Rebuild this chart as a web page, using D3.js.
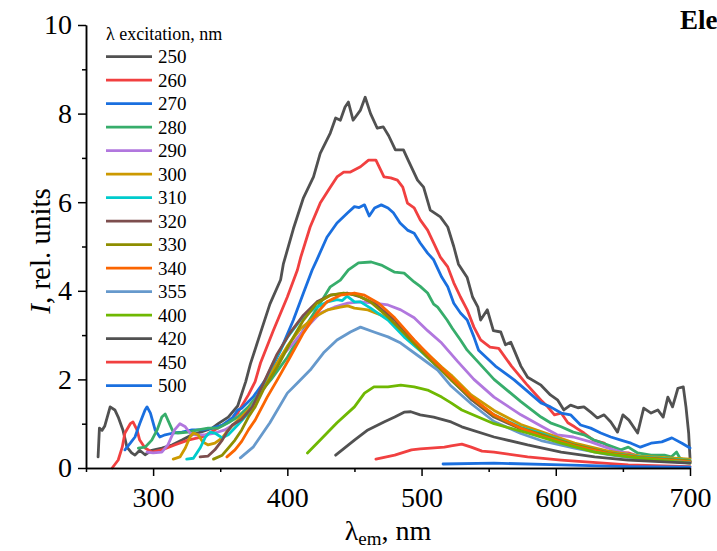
<!DOCTYPE html>
<html lang="en">
<head>
    <meta charset="UTF-8">
    <title>Excitation spectra</title>
    <style>
        body { margin: 0; background: #fff; }
        svg { display: block; font-family: "Liberation Serif", "Times New Roman", serif; }
        .axis path, .axis line { stroke: #000; stroke-width: 1.5px; }
        .axis text { font-family: "Liberation Serif", serif; font-size: 28px; fill: #000; }
    </style>
</head>
<body>
    <svg id="chart" width="717" height="551"></svg>

    <script src="https://d3js.org/d3.v7.min.js"></script>
    <script>
        // excitation wavelengths (legend) and colours
        var excitation = ["250", "260", "270", "280", "290", "300", "310", "320", "330", "340", "355", "400", "420", "450", "500"];
        var colors = ["#515151", "#F14040", "#1A6FDF", "#37AD6B", "#B177DE", "#CC9900", "#00CBCC", "#7D4E4E",
                      "#8E8E00", "#FB6501", "#6699CC", "#6FB802", "#515151", "#F14040", "#1A6FDF"];

        var xTicks = [300, 400, 500, 600, 700];
        var xMinor = [250, 350, 450, 550, 650];
        var yTicks = [0, 2, 4, 6, 8, 10];
        var yMinor = [1, 3, 5, 7, 9];

        // emission spectra, [lambda_em nm, I rel. units]
        var s250 = [[259,0.25],[260,0.9],[262,0.85],[264,0.95],[268,1.38],[271.5,1.31],[274,1.15],[277.5,0.86],[280.5,0.47],[284,0.34],[286.5,0.29],[290,0.4],[294,0.3],[299,0.4],[306.5,0.45],[314,0.52],[321.5,0.63],[329,0.75],[336.5,0.82],[344,0.9],[348.5,1.0],[356,1.15],[363,1.4],[369,1.95],[372.5,2.35],[380,3.05],[387,3.7],[395,4.25],[397,4.6],[404.5,5.4],[412,6.1],[419.5,6.57],[424.5,7.1],[432,7.56],[436,7.9],[439.5,7.85],[443,8.15],[445.5,8.26],[449,7.85],[454.5,8.08],[458,8.37],[462,8.0],[467,7.67],[471.5,7.7],[475.5,7.5],[480.5,7.18],[486.5,7.18],[490,6.95],[497,6.5],[501.5,6.34],[506.5,5.82],[514,5.67],[519.5,5.44],[524,5.0],[527.5,4.6],[534,4.3],[538,3.86],[542,3.63],[544,3.34],[549,3.57],[553.5,3.1],[559,3.07],[562.5,2.78],[566.5,2.84],[569,2.66],[574,2.3],[579,2.05],[589,1.87],[596,1.65],[601.5,1.53],[606,1.31],[611,1.42],[616.5,1.36],[621,1.38],[626,1.26],[631,1.13],[636,1.2],[641,1.04],[646,0.81],[650,1.2],[654.5,1.08],[661,0.79],[665.5,1.35],[671,1.24],[676,1.31],[680,1.15],[683.5,1.6],[687,1.38],[691,1.8],[695,1.83],[697,1.38],[699,0.79],[700,0.23]];
        var s260 = [[269.5,0.0],[274,0.18],[277,0.47],[279,0.79],[283,1.0],[285,1.04],[288,0.86],[290,0.63],[294,0.45],[299,0.36],[306.5,0.41],[316,0.52],[326,0.63],[336.5,0.7],[346,0.86],[356,1.04],[363,1.24],[371,1.65],[376,1.95],[380,2.37],[389.5,3.1],[400,3.86],[407.5,4.47],[410,4.76],[417,5.44],[424.5,5.98],[432,6.34],[437,6.57],[442,6.68],[447,6.68],[454.5,6.8],[460.5,6.95],[466,6.95],[469.5,6.73],[472,6.57],[477,6.55],[482,6.5],[486,6.34],[489.5,5.98],[494.5,5.87],[499,5.6],[504.5,5.37],[509,5.08],[514,4.76],[519.5,4.54],[524,4.18],[529,3.86],[534,3.57],[539,3.18],[544,2.89],[551,2.73],[557.5,2.7],[567,2.3],[578,1.9],[589,1.53],[594,1.38],[599,1.2],[604,1.24],[609,1.02],[614,0.93],[621,0.79],[628,0.63],[636,0.56],[644,0.36],[654,0.34],[663,0.25],[676,0.23],[688,0.18],[700,0.14]];
        var s270 = [[279,0.41],[283,0.56],[286.5,0.7],[290,1.0],[294,1.31],[295.5,1.38],[298,1.24],[301.5,0.86],[305,0.7],[309,0.75],[315,0.79],[321.5,0.81],[329,0.86],[336.5,0.86],[344,0.9],[351.5,0.97],[359,1.13],[363,1.31],[366,1.35],[374.5,1.6],[385,2.05],[395,2.66],[404.5,3.34],[412,3.95],[418.5,4.47],[422,4.7],[429.5,5.21],[437,5.53],[445,5.76],[450,5.9],[453.5,5.88],[457.5,5.94],[461,5.69],[465,5.87],[470,5.94],[475,5.87],[479,5.76],[484,5.53],[489.5,5.37],[494.5,5.3],[499,5.08],[504.5,4.85],[509,4.7],[515,4.31],[519.5,4.09],[524,3.72],[529,3.5],[534,3.34],[539,2.96],[542.5,2.66],[555,2.3],[569,1.99],[589,1.47],[596,1.38],[604,1.24],[611,1.2],[618.5,0.97],[626,0.9],[633.5,0.79],[641,0.7],[648.5,0.63],[656,0.56],[663,0.47],[671,0.56],[679,0.59],[686.5,0.68],[694,0.56],[700,0.45]];
        var s280 = [[289,0.45],[294,0.47],[299,0.63],[303,0.86],[306.5,1.15],[309,1.22],[311,1.08],[315,0.81],[318.5,0.79],[326,0.81],[333.5,0.86],[341,0.9],[348.5,0.9],[356,1.02],[363,1.15],[371,1.38],[375,1.53],[388,2.0],[400,2.5],[415,3.27],[424.5,3.72],[432,4.09],[439.5,4.24],[445.5,4.47],[453,4.63],[462.5,4.65],[470,4.58],[480,4.42],[487,4.4],[494.5,4.2],[499,4.1],[504.5,3.95],[509,3.7],[512,3.63],[519,3.34],[523,3.15],[529,2.89],[534,2.66],[554,2.0],[574,1.5],[589,1.15],[596,1.02],[604,0.93],[613,0.81],[621,0.75],[628.5,0.63],[639,0.52],[648.5,0.41],[654,0.47],[661,0.34],[671,0.29],[681,0.29],[686,0.25],[690,0.36],[692.5,0.22],[700,0.14]];
        var s290 = [[295.5,0.36],[300,0.34],[306.5,0.36],[311,0.52],[316,0.86],[320,1.0],[324,0.93],[327.5,0.79],[331,0.75],[339,0.75],[346,0.79],[353.5,0.86],[361,1.0],[368.5,1.2],[375,1.45],[385,1.95],[395,2.5],[404,2.8],[412,3.1],[424.5,3.5],[435,3.63],[445,3.72],[454.5,3.75],[464.5,3.72],[475,3.68],[484.5,3.57],[494.5,3.39],[504.5,3.1],[515,2.82],[527,2.4],[539,2.0],[554,1.6],[574,1.2],[589,0.95],[601,0.75],[613,0.7],[626,0.59],[639,0.45],[651,0.34],[663,0.25],[688,0.18],[700,0.15]];
        var s300 = [[315,0.2],[320,0.25],[324,0.45],[327.5,0.7],[330,0.79],[333.5,0.75],[337,0.59],[341,0.52],[346,0.56],[351.5,0.68],[356,0.86],[363,1.08],[371,1.31],[380,1.7],[390,2.25],[400,2.75],[410,3.15],[420,3.4],[430,3.57],[439.5,3.63],[445,3.66],[450,3.61],[460,3.57],[470,3.45],[484.5,3.18],[499,2.73],[515,2.28],[522,2.1],[537,1.65],[554,1.3],[574,0.98],[589,0.82],[614,0.56],[639,0.38],[663,0.27],[700,0.2]];
        var s310 = [[325,0.2],[330,0.22],[335,0.45],[339,0.7],[342.5,0.81],[346,0.79],[351.5,0.68],[356,0.75],[363,0.97],[371,1.24],[380,1.75],[390,2.4],[400,2.95],[410,3.35],[420,3.6],[430,3.75],[437,3.8],[441,3.78],[444.5,3.88],[450,3.75],[454.5,3.75],[462,3.61],[475,3.34],[487,2.96],[499,2.65],[515,2.2],[522,2.02],[537,1.55],[554,1.2],[574,0.92],[589,0.78],[614,0.52],[639,0.34],[663,0.25],[700,0.17]];
        var s320 = [[335,0.25],[341,0.27],[346,0.41],[351.5,0.63],[355,0.81],[359,0.97],[366,1.1],[374,1.38],[382,1.9],[392,2.55],[402,3.05],[412,3.45],[422,3.75],[432,3.9],[444.5,3.95],[454.5,3.86],[464.5,3.72],[480,3.34],[499,2.73],[522,1.99],[537,1.55],[554,1.15],[574,0.88],[589,0.74],[614,0.5],[639,0.32],[663,0.22],[700,0.15]];
        var s330 = [[345,0.2],[351.5,0.29],[356,0.45],[361,0.63],[366,0.86],[371,1.15],[376,1.38],[382,1.76],[392.5,2.28],[402,2.82],[412,3.34],[422,3.72],[432,3.9],[442,3.95],[452,3.9],[462,3.75],[475,3.41],[489.5,2.96],[504.5,2.5],[522,1.99],[537,1.58],[554,1.18],[574,0.9],[589,0.76],[614,0.52],[639,0.34],[663,0.24],[700,0.16]];
        var s340 = [[355,0.25],[361,0.41],[366,0.6],[371,0.86],[376,1.08],[385,1.6],[392.5,1.99],[402,2.5],[412,3.05],[422,3.5],[429.5,3.75],[439.5,3.9],[450,3.95],[457.5,3.9],[468,3.72],[480,3.39],[494.5,2.89],[509,2.44],[522,2.05],[537,1.6],[554,1.2],[574,0.9],[589,0.72],[614,0.5],[639,0.33],[663,0.23],[700,0.14]];
        var s355 = [[365,0.23],[374.5,0.47],[387,1.02],[400,1.69],[407.5,1.92],[417,2.21],[427,2.6],[437,2.89],[447,3.07],[454.5,3.18],[464.5,3.07],[475,2.96],[484.5,2.82],[499,2.5],[512,2.21],[522,1.85],[537,1.45],[554,1.05],[574,0.78],[589,0.62],[614,0.45],[639,0.3],[663,0.2],[700,0.12]];
        var s400 = [[415,0.34],[424.5,0.63],[437,1.02],[450,1.38],[457.5,1.69],[464.5,1.83],[475,1.83],[484.5,1.87],[494.5,1.83],[504.5,1.76],[515,1.6],[522,1.47],[530,1.31],[554,1.0],[579,0.79],[604,0.56],[629,0.36],[654,0.25],[700,0.11]];
        var s420 = [[436,0.29],[450,0.63],[460,0.86],[472,1.04],[480,1.15],[487,1.26],[492,1.27],[499,1.2],[509,1.15],[522,1.04],[530,0.93],[554,0.7],[579,0.52],[604,0.36],[629,0.25],[654,0.18],[700,0.11]];
        var s450 = [[466,0.2],[480,0.29],[492.5,0.41],[499,0.43],[517,0.47],[522,0.5],[530,0.54],[537,0.47],[545,0.38],[554,0.36],[579,0.25],[604,0.18],[654,0.07],[700,0.03]];
        var s500 = [[516,0.09],[554,0.11],[604,0.07],[654,0.03],[700,0.02]];

        var spectra = [s250, s260, s270, s280, s290, s300, s310, s320, s330, s340, s355, s400, s420, s450, s500];

        var svg = d3.select("#chart");
        var margin = { left: 86, right: 27, top: 25, bottom: 83 };
        var width = 717 - margin.left - margin.right;
        var height = 551 - margin.top - margin.bottom;

        var x = d3.scaleLinear().domain([250, 700]).range([margin.left, margin.left + width]);
        var y = d3.scaleLinear().domain([0, 10]).range([margin.top + height, margin.top]);

        // curves
        var line = d3.line()
            .x(function(d) { return x(d[0]); })
            .y(function(d) { return y(d[1]); });

        svg.append("g")
            .selectAll("path")
            .data(spectra)
            .enter().append("path")
            .attr("d", line)
            .attr("fill", "none")
            .attr("stroke", function(d, i) { return colors[i]; })
            .attr("stroke-width", 2.8)
            .attr("stroke-linejoin", "round")
            .attr("stroke-linecap", "round");

        // axes
        var xAxis = svg.append("g")
            .attr("class", "axis")
            .attr("transform", "translate(0," + (margin.top + height) + ")")
            .call(d3.axisBottom(x).tickValues(xTicks).tickSize(8).tickSizeOuter(0));
        xAxis.selectAll("text").attr("y", 19);

        svg.append("g")
            .attr("class", "axis")
            .attr("transform", "translate(0," + (margin.top + height) + ")")
            .call(d3.axisBottom(x).tickValues(xMinor).tickSize(4).tickSizeOuter(0).tickFormat(""));

        var yAxis = svg.append("g")
            .attr("class", "axis")
            .attr("transform", "translate(" + margin.left + ",0)")
            .call(d3.axisLeft(y).tickValues(yTicks).tickSize(8).tickSizeOuter(0));
        yAxis.selectAll("text").attr("x", -14);

        svg.append("g")
            .attr("class", "axis")
            .attr("transform", "translate(" + margin.left + ",0)")
            .call(d3.axisLeft(y).tickValues(yMinor).tickSize(4).tickSizeOuter(0).tickFormat(""));

        // axis titles
        var xt = svg.append("text")
            .attr("x", x(475))
            .attr("y", 540)
            .attr("text-anchor", "middle")
            .attr("font-size", "28px");
        xt.append("tspan").text("λ");
        xt.append("tspan").attr("font-size", "19px").attr("dy", 5).text("em");
        xt.append("tspan").attr("dy", -5).text(", nm");

        var yt = svg.append("text")
            .attr("transform", "translate(50," + y(4.9) + ") rotate(-90)")
            .attr("text-anchor", "middle")
            .attr("font-size", "29px");
        yt.append("tspan").attr("font-style", "italic").text("I");
        yt.append("tspan").text(", rel. units");

        // title fragment at top right
        svg.append("text")
            .attr("x", 680)
            .attr("y", 29)
            .attr("font-size", "27px")
            .attr("font-weight", "bold")
            .text("Ele");

        // legend
        var legend = svg.append("g").attr("transform", "translate(106,0)");
        legend.append("text")
            .attr("x", 0)
            .attr("y", 40)
            .attr("font-size", "18px")
            .text("λ excitation, nm");

        var rowY = d3.scaleLinear().domain([0, excitation.length - 1]).range([56.7, 385.7]);
        var rows = legend.selectAll("g.row")
            .data(excitation)
            .enter().append("g")
            .attr("class", "row")
            .attr("transform", function(d, i) { return "translate(0," + rowY(i) + ")"; });
        rows.append("line")
            .attr("x1", 0).attr("x2", 46)
            .attr("stroke", function(d, i) { return colors[i]; })
            .attr("stroke-width", 2.8);
        rows.append("text")
            .attr("x", 52)
            .attr("y", 0)
            .attr("dy", "0.34em")
            .attr("font-size", "19px")
            .text(function(d) { return d; });
    </script>
</body>
</html>
